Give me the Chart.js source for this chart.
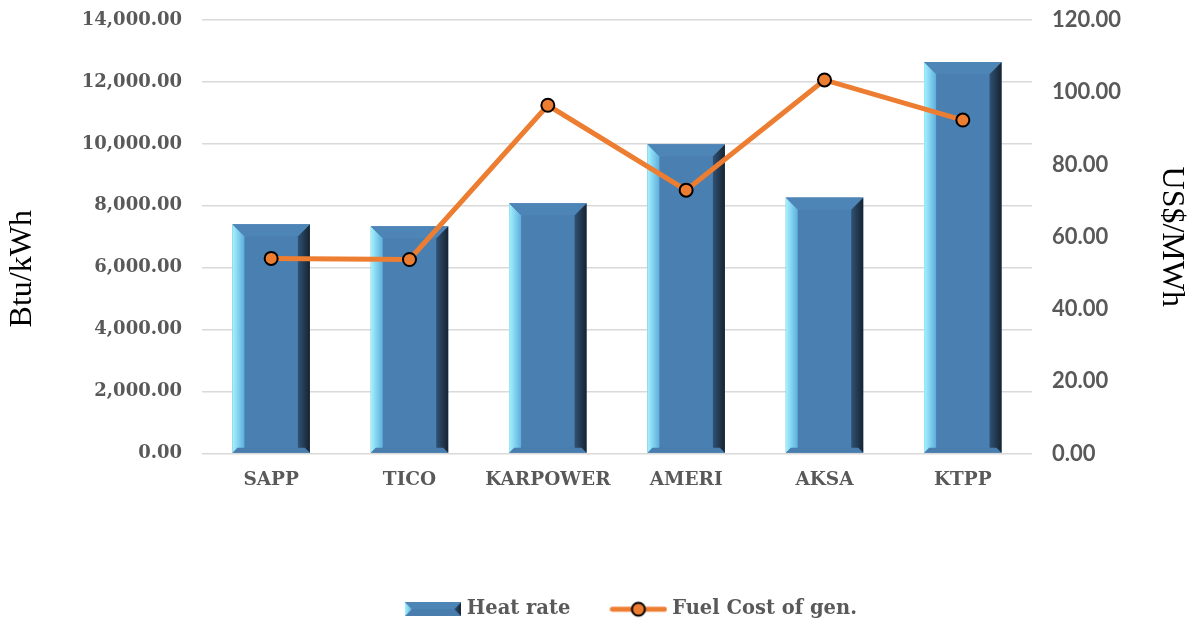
<!DOCTYPE html>
<html>
<head>
<meta charset="utf-8">
<script src="https://cdn.jsdelivr.net/npm/chart.js@4.4.1/dist/chart.umd.min.js"></script>
<style>
    html, body { margin: 0; padding: 0; background: #ffffff; }
    #grafico_wrap { width: 1193px; height: 625px; }
</style>
</head>
<body>
<div id="grafico_wrap"><canvas id="chart_heat"></canvas></div>
<script>
const usinas = ['SAPP', 'TICO', 'KARPOWER', 'AMERI', 'AKSA', 'KTPP'];
const heat_rate = [7400, 7340, 8080, 9990, 8270, 12640];
const fuel_cost = [54.0, 53.7, 96.4, 72.9, 103.4, 92.3];
const ticks_esq = [0, 2000, 4000, 6000, 8000, 10000, 12000, 14000];
const ticks_dir = [0, 20, 40, 60, 80, 100, 120];

const cinza = '#595959';
const laranja = '#ed7d31';
const azul = '#4a7fb1';

// bevel look of the bars (drawn over each bar the library placed)
function desenharBisel(ctx, esq, dir, topo, base, b, bb) {
    var g = ctx.createLinearGradient(esq, 0, esq + b, 0);
    g.addColorStop(0, '#a4f3ff');
    g.addColorStop(1, '#5eaedd');
    ctx.fillStyle = g;
    ctx.beginPath();
    ctx.moveTo(esq, topo);
    ctx.lineTo(esq + b, topo + b);
    ctx.lineTo(esq + b, base - bb);
    ctx.lineTo(esq, base);
    ctx.closePath();
    ctx.fill();

    g = ctx.createLinearGradient(dir - b, 0, dir, 0);
    g.addColorStop(0, '#2f5274');
    g.addColorStop(1, '#172330');
    ctx.fillStyle = g;
    ctx.beginPath();
    ctx.moveTo(dir, topo);
    ctx.lineTo(dir - b, topo + b);
    ctx.lineTo(dir - b, base - bb);
    ctx.lineTo(dir, base);
    ctx.closePath();
    ctx.fill();

    ctx.fillStyle = '#4e85b7';
    ctx.beginPath();
    ctx.moveTo(esq, topo);
    ctx.lineTo(dir, topo);
    ctx.lineTo(dir - b, topo + b);
    ctx.lineTo(esq + b, topo + b);
    ctx.closePath();
    ctx.fill();

    ctx.fillStyle = '#487dae';
    ctx.beginPath();
    ctx.moveTo(esq, base);
    ctx.lineTo(esq + bb, base - bb);
    ctx.lineTo(dir - bb, base - bb);
    ctx.lineTo(dir, base);
    ctx.closePath();
    ctx.fill();
}

const pluginBisel = {
    id: 'bisel',
    afterDatasetDraw(chart, args) {
        if (args.index !== 0) return;
        var ctx = chart.ctx;
        ctx.save();
        args.meta.data.forEach(function (barra) {
            var p = barra.getProps(['x', 'y', 'base', 'width'], true);
            var esq = p.x - p.width / 2;
            var dir = p.x + p.width / 2;
            desenharBisel(ctx, esq, dir, p.y, p.base, 12, 5);
        });
        ctx.restore();
    }
};

// legend sits a bit right of the centre in the original
const pluginLegenda = {
    id: 'legendaDesloc',
    beforeDraw(chart) {
        if (chart.legend && !chart.legend._deslocada) {
            chart.legend.left += 16;
            chart.legend.right += 16;
            chart.legend._deslocada = true;
        }
    }
};

function iconeBarra() {
    var c = document.createElement('canvas');
    c.width = 56;
    c.height = 14;
    var ctx = c.getContext('2d');
    ctx.fillStyle = azul;
    ctx.fillRect(0, 0, 56, 14);
    desenharBisel(ctx, 0, 56, 0, 14, 7, 7);
    return c;
}

function iconeLinha() {
    var c = document.createElement('canvas');
    c.width = 58;
    c.height = 18;
    var ctx = c.getContext('2d');
    ctx.strokeStyle = laranja;
    ctx.lineWidth = 5;
    ctx.lineCap = 'round';
    ctx.beginPath();
    ctx.moveTo(3, 9);
    ctx.lineTo(55, 9);
    ctx.stroke();
    ctx.beginPath();
    ctx.arc(29, 9, 6.5, 0, Math.PI * 2);
    ctx.fillStyle = laranja;
    ctx.fill();
    ctx.lineWidth = 2;
    ctx.strokeStyle = '#000000';
    ctx.stroke();
    return c;
}

function semPadding(scale) {
    scale.paddingTop = 0;
    scale.paddingBottom = 0;
}

function criarGrafico() {
    const ctx = document.getElementById('chart_heat');
    const icone1 = iconeBarra();
    const icone2 = iconeLinha();

    new Chart(ctx, {
        data: {
            labels: usinas,
            datasets: [{
                type: 'bar',
                label: 'Heat rate',
                data: heat_rate,
                yAxisID: 'y',
                backgroundColor: azul,
                borderWidth: 0,
                barPercentage: 0.56,
                categoryPercentage: 1,
                order: 2
            }, {
                type: 'line',
                label: 'Fuel Cost of gen.',
                data: fuel_cost,
                yAxisID: 'y1',
                borderColor: laranja,
                borderWidth: 5,
                pointRadius: 6.5,
                pointBackgroundColor: laranja,
                pointBorderColor: '#000000',
                pointBorderWidth: 2,
                tension: 0,
                order: 1
            }]
        },
        options: {
            responsive: true,
            maintainAspectRatio: false,
            animation: false,
            layout: {
                padding: { top: 20, left: 0, right: 0, bottom: -4 }
            },
            scales: {
                x: {
                    grid: { display: false, drawTicks: false },
                    border: { display: false },
                    ticks: {
                        color: cinza,
                        padding: 16,
                        font: { family: 'DejaVu Serif', weight: 'bold', size: 18.5 }
                    },
                    afterFit: function (scale) { scale.height = 102; }
                },
                y: {
                    position: 'left',
                    min: 0,
                    max: 14000,
                    afterBuildTicks: function (scale) {
                        scale.ticks = ticks_esq.map(function (v) { return { value: v }; });
                    },
                    grid: { color: '#d9d9d9', lineWidth: 1.5, drawTicks: false },
                    border: { display: false },
                    ticks: {
                        color: cinza,
                        padding: 20,
                        font: { family: 'DejaVu Serif', weight: 'bold', size: 18 },
                        callback: function (v) {
                            return v.toLocaleString('en-US', { minimumFractionDigits: 2, maximumFractionDigits: 2 });
                        }
                    },
                    title: {
                        display: true,
                        text: 'Btu/kWh        ',
                        color: '#000000',
                        padding: { top: 3, bottom: 0 },
                        font: { family: 'Liberation Serif', size: 32, weight: 'normal' }
                    },
                    afterFit: function (scale) { scale.width = 202; semPadding(scale); }
                },
                y1: {
                    position: 'right',
                    min: 0,
                    max: 120,
                    afterBuildTicks: function (scale) {
                        scale.ticks = ticks_dir.map(function (v) { return { value: v }; });
                    },
                    grid: { display: false, drawTicks: false },
                    border: { display: false },
                    ticks: {
                        color: cinza,
                        padding: 20,
                        font: { family: 'Lato', weight: 'bold', size: 22 },
                        callback: function (v) { return v.toFixed(2); }
                    },
                    title: {
                        display: true,
                        text: 'US$/MWh',
                        color: '#000000',
                        padding: { top: 2, bottom: 0 },
                        font: { family: 'Liberation Serif', size: 32, weight: 'normal' }
                    },
                    afterFit: function (scale) { scale.width = 161; semPadding(scale); }
                }
            },
            plugins: {
                tooltip: { enabled: false },
                legend: {
                    position: 'bottom',
                    fullSize: false,
                    labels: {
                        usePointStyle: true,
                        pointStyleWidth: 48,
                        padding: 44,
                        color: cinza,
                        font: { family: 'DejaVu Serif', weight: 'bold', size: 19.5 },
                        generateLabels: function () {
                            return [
                                { text: 'Heat rate', pointStyle: icone1, fontColor: cinza, fillStyle: 'transparent', strokeStyle: 'transparent', lineWidth: 0, datasetIndex: 0 },
                                { text: 'Fuel Cost of gen.', pointStyle: icone2, fontColor: cinza, fillStyle: 'transparent', strokeStyle: 'transparent', lineWidth: 0, datasetIndex: 1 }
                            ];
                        }
                    }
                }
            }
        },
        plugins: [pluginBisel, pluginLegenda]
    });
}

criarGrafico();
</script>
</body>
</html>
